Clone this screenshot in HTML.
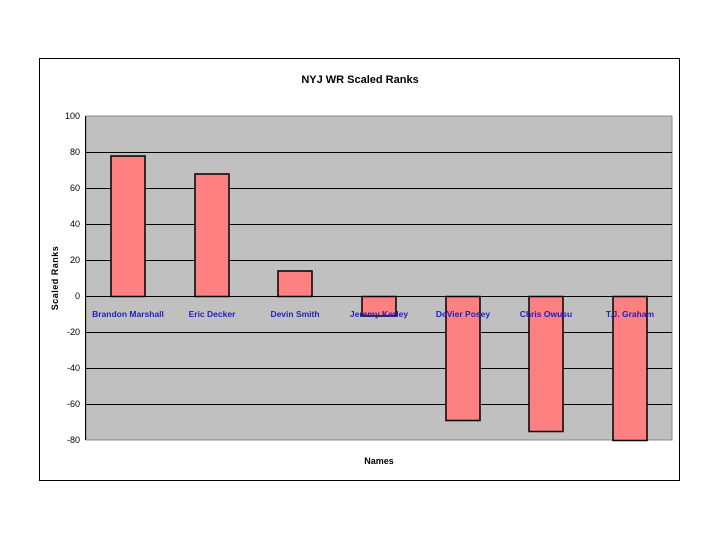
<!DOCTYPE html>
<html><head><style>body{margin:0;background:#fff}</style></head><body>
<svg width="720" height="540" xmlns="http://www.w3.org/2000/svg" font-family="Liberation Sans, Arial, sans-serif">
<rect width="720" height="540" fill="#fff"/>
<rect x="39.5" y="58.5" width="640" height="422" fill="#fff" stroke="#000" stroke-width="1"/>
<text x="360" y="83" font-size="11" font-weight="bold" text-anchor="middle">NYJ WR Scaled Ranks</text>
<rect x="86" y="116" width="586" height="324" fill="#c0c0c0" stroke="#888" stroke-width="1"/>
<g stroke="#000" stroke-width="1">
<line x1="86" x2="672" y1="152.5" y2="152.5"/><line x1="86" x2="672" y1="188.5" y2="188.5"/>
<line x1="86" x2="672" y1="224.5" y2="224.5"/><line x1="86" x2="672" y1="260.5" y2="260.5"/>
<line x1="86" x2="672" y1="332.5" y2="332.5"/><line x1="86" x2="672" y1="368.5" y2="368.5"/>
<line x1="86" x2="672" y1="404.5" y2="404.5"/>
<line x1="85.5" x2="85.5" y1="116" y2="440"/>
</g>
<g fill="#ff8080" stroke="#000" stroke-width="1.5">
<rect x="111" y="156" width="34" height="140.5"/>
<rect x="195" y="174" width="34" height="122.5"/>
<rect x="278" y="271" width="34" height="25.5"/>
<rect x="362" y="296.5" width="34" height="19.5"/>
<rect x="446" y="296.5" width="34" height="124"/>
<rect x="529" y="296.5" width="34" height="135"/>
<rect x="613" y="296.5" width="34" height="144"/>
</g>
<line x1="86" x2="672" y1="296.5" y2="296.5" stroke="#000" stroke-width="1"/>
<g font-size="9" text-anchor="end" fill="#000">
<text x="80" y="119">100</text><text x="80" y="155">80</text><text x="80" y="191">60</text>
<text x="80" y="227">40</text><text x="80" y="263">20</text><text x="80" y="299">0</text>
<text x="80" y="335">-20</text><text x="80" y="371">-40</text><text x="80" y="407">-60</text>
<text x="80" y="443">-80</text>
</g>
<g font-size="8.5" font-weight="bold" fill="#2222bb" text-anchor="middle">
<text x="128" y="317">Brandon Marshall</text><text x="212" y="317">Eric Decker</text>
<text x="295" y="317">Devin Smith</text><text x="379" y="317">Jeremy Kerley</text>
<text x="463" y="317">DeVier Posey</text><text x="546" y="317">Chris Owusu</text>
<text x="630" y="317">T.J. Graham</text>
</g>
<text x="379" y="464" font-size="9" font-weight="bold" text-anchor="middle">Names</text>
<text transform="translate(58,278) rotate(-90)" font-size="9" font-weight="bold" text-anchor="middle" letter-spacing="0.5">Scaled Ranks</text>
</svg>
</body></html>
